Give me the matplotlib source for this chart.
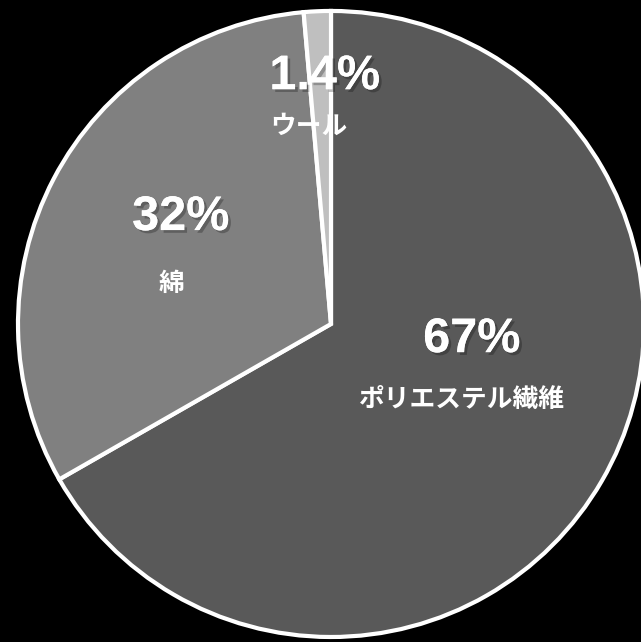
import matplotlib.pyplot as plt
import matplotlib.patheffects as pe

# data
materials = ["ポリエステル繊維", "綿", "ウール"]
shares = [67, 32, 1.4]
pct_labels = ["67%", "32%", "1.4%"]
colors = ["#595959", "#808080", "#bfbfbf"]

# label layout (pie radius = 1)
pct_pos = [(0.45, -0.05), (-0.48, 0.34), (-0.02, 0.79)]
name_pos = [(0.42, -0.24), (-0.51, 0.13), (-0.07, 0.63)]

fig = plt.figure(figsize=(6.41, 6.42), dpi=100, facecolor="black")
ax = fig.add_axes([0, 0, 1, 1])
ax.set_facecolor("black")

ax.pie(shares, colors=colors, startangle=90, counterclock=False, radius=1.0,
       wedgeprops=dict(edgecolor="white", linewidth=3))
ax.set_aspect("auto")
ax.set_xlim(-1.0575, 0.9904)
ax.set_ylim(-1.016, 1.035)
ax.axis("off")

shadow = [pe.withSimplePatchShadow(offset=(2, -2), shadow_rgbFace="black", alpha=0.25), pe.Normal()]
for txt, (x, y) in zip(pct_labels, pct_pos):
    ax.text(x, y, txt, color="white", fontsize=35, fontweight="bold",
            family=["Liberation Sans", "DejaVu Sans"], ha="center", va="center",
            path_effects=shadow)

for txt, (x, y) in zip(materials, name_pos):
    ax.text(x, y, txt, color="white", fontsize=18.5, fontweight="bold",
            family=["Noto Sans CJK JP", "DejaVu Sans"], ha="center", va="center")

fig.savefig("out.png", dpi=100, facecolor="black")
